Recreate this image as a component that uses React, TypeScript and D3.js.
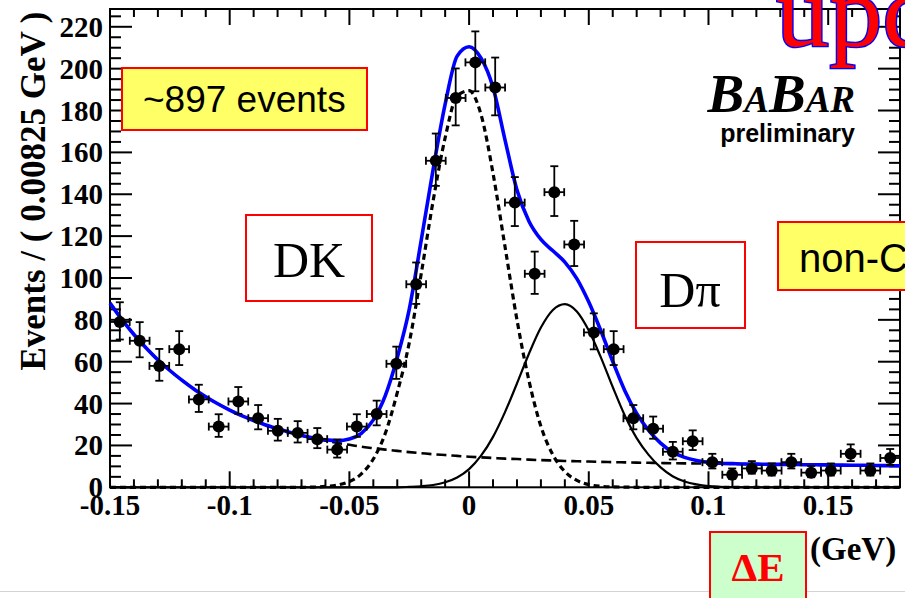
import React from 'react';
import * as d3 from 'd3';

// histogram: Delta E, bins of 0.00825 GeV
const binWidth = 0.00825;
const binCenters = [
  -0.1459, -0.1376, -0.1294, -0.1211, -0.1129, -0.1046, -0.0964, -0.0881, -0.0799, -0.0716,
  -0.0634, -0.0551, -0.0469, -0.0386, -0.0304, -0.0221, -0.0139, -0.0056, 0.0026, 0.0109,
  0.0191, 0.0274, 0.0356, 0.0439, 0.0521, 0.0604, 0.0686, 0.0769, 0.0851, 0.0934,
  0.1016, 0.1099, 0.1181, 0.1264, 0.1346, 0.1429, 0.1511, 0.1594, 0.1676, 0.1759,
];
const counts = [
  79, 70, 58, 66, 42, 29, 41, 33, 27, 26,
  23, 18, 29, 35, 59, 97, 156, 186, 203, 191,
  136, 102, 141, 116, 74, 66, 33, 28, 17, 22,
  12, 6, 9, 8, 12, 7, 8, 16, 8, 14,
];
const errLo = [
  8.4, 7.9, 7.1, 7.6, 6.0, 4.9, 5.9, 5.3, 4.7, 4.6,
  4.3, 3.8, 4.9, 5.4, 7.2, 9.4, 12.0, 13.1, 13.8, 13.3,
  11.2, 9.6, 11.4, 10.3, 8.1, 7.6, 5.3, 4.8, 3.7, 4.2,
  3.0, 2.0, 2.5, 2.4, 3.0, 2.2, 2.4, 3.5, 2.4, 3.3,
];
const errHi = [
  9.4, 8.9, 8.1, 8.6, 7.0, 5.9, 6.9, 6.3, 5.7, 5.6,
  5.3, 4.8, 5.9, 6.4, 8.2, 10.4, 13.0, 14.1, 14.8, 14.3,
  12.2, 10.6, 12.4, 11.3, 9.1, 8.6, 6.3, 5.8, 4.7, 5.2,
  4.0, 3.0, 3.5, 3.4, 4.0, 3.2, 3.4, 4.5, 3.4, 4.3,
];

// fit curves at 0.005 GeV steps
const curveX = [
  -0.15, -0.145, -0.14, -0.135, -0.13, -0.125, -0.12, -0.115, -0.11, -0.105,
  -0.1, -0.095, -0.09, -0.085, -0.08, -0.075, -0.07, -0.065, -0.06, -0.055,
  -0.05, -0.045, -0.04, -0.035, -0.03, -0.025, -0.02, -0.015, -0.01, -0.005,
  0, 0.005, 0.01, 0.015, 0.02, 0.025, 0.03, 0.035, 0.04, 0.045,
  0.05, 0.055, 0.06, 0.065, 0.07, 0.075, 0.08, 0.085, 0.09, 0.095,
  0.1, 0.105, 0.11, 0.115, 0.12, 0.125, 0.13, 0.135, 0.14, 0.145,
  0.15, 0.155, 0.16, 0.165, 0.17, 0.175, 0.18,
];
const totalFit = [
  88, 80.1, 73.0, 66.7, 60.9, 55.8, 51.2, 47.0, 43.3, 39.9,
  36.9, 34.2, 31.9, 29.8, 28.0, 26.3, 24.8, 23.6, 22.7, 22.3,
  23.1, 25.8, 32.2, 43.8, 62.0, 85, 118, 152, 183, 206,
  210.5, 205, 191, 166, 142, 127.1, 118.4, 113.0, 107.6, 99.7,
  88.5, 74.9, 60.1, 46.3, 35.3, 27.2, 21.1, 16.8, 14.3, 12.8,
  11.9, 11.5, 11.3, 11.1, 11.05, 11.0, 10.95, 10.9, 10.8, 10.75,
  10.7, 10.6, 10.55, 10.5, 10.4, 10.35, 10.3,
];
const bkgFit = [
  88, 80.1, 73.0, 66.7, 60.9, 55.8, 51.2, 47.0, 43.3, 39.9,
  36.9, 34.2, 31.9, 29.8, 28.0, 26.3, 24.8, 23.5, 22.3, 21.2,
  20.3, 19.4, 18.7, 18.0, 17.4, 16.8, 16.3, 15.8, 15.4, 15.0,
  14.6, 14.3, 14.0, 13.7, 13.5, 13.2, 13.0, 12.8, 12.6, 12.45,
  12.3, 12.15, 12.0, 11.9, 11.8, 11.7, 11.6, 11.5, 11.45, 11.4,
  11.3, 11.25, 11.2, 11.1, 11.05, 11.0, 10.95, 10.9, 10.8, 10.75,
  10.7, 10.6, 10.55, 10.5, 10.4, 10.35, 10.3,
];
const dkFit = [
  0, 0, 0, 0, 0, 0, 0, 0, 0, 0,
  0, 0, 0, 0, 0, 0, 0, 0.1, 0.4, 1.1,
  2.8, 6.4, 13.5, 25.8, 45.2, 69, 102, 137, 167, 187,
  189.5, 178, 150, 115, 80, 51, 29.1, 15.5, 7.5, 3.3,
  1.3, 0.5, 0.2, 0.1, 0, 0, 0, 0, 0, 0,
  0, 0, 0, 0, 0, 0, 0, 0, 0, 0,
  0, 0, 0, 0, 0, 0, 0,
];
const dpiFit = [
  0, 0, 0, 0, 0, 0, 0, 0, 0, 0,
  0, 0, 0, 0, 0, 0, 0, 0, 0, 0,
  0, 0, 0, 0, 0, 0.2, 0.5, 1.1, 2.4, 4.7,
  8.7, 15.1, 24.1, 35.9, 49.6, 63.8, 76.3, 84.7, 87.5, 84.0,
  74.9, 62.2, 47.9, 34.4, 23.5, 15.5, 9.5, 5.3, 2.8, 1.4,
  0.6, 0.25, 0.1, 0, 0, 0, 0, 0, 0, 0,
  0, 0, 0, 0, 0, 0, 0,
];

const xTickValues = [-0.15, -0.1, -0.05, 0, 0.05, 0.1, 0.15];
const xTickLabels = ['-0.15', '-0.1', '-0.05', '0', '0.05', '0.1', '0.15'];
const yTickValues = [0, 20, 40, 60, 80, 100, 120, 140, 160, 180, 200, 220];
const yTickLabels = ['0', '20', '40', '60', '80', '100', '120', '140', '160', '180', '200', '220'];

const serif = '"Liberation Serif", "Times New Roman", serif';
const sans = '"Liberation Sans", Arial, sans-serif';

export default function App() {
  const W = 905, H = 598;
  const left = 110, right = 900, top = 9, bottom = 487.3;

  const x = d3.scaleLinear().domain([-0.15, 0.18]).range([left, right]);
  const y = d3.scaleLinear().domain([0, 228.5]).range([bottom, top]);

  const xMinor = x.ticks(33);
  const yMinor = y.ticks(46);
  const isMajorX = (v: number) => Math.abs(v / 0.05 - Math.round(v / 0.05)) < 1e-6;
  const isMajorY = (v: number) => Math.abs(v % 20) < 1e-6;

  const mk = (vals: number[]) =>
    d3.line<number>()
      .x((_, i) => x(curveX[i]))
      .y(d => y(d))
      .curve(d3.curveMonotoneX)(vals) || '';

  const ticks: JSX.Element[] = [];
  xMinor.forEach((v, i) => {
    const len = isMajorX(v) ? 16 : 8;
    ticks.push(<line key={'xb' + i} x1={x(v)} x2={x(v)} y1={bottom} y2={bottom - len} />);
    ticks.push(<line key={'xt' + i} x1={x(v)} x2={x(v)} y1={top} y2={top + len} />);
  });
  yMinor.forEach((v, i) => {
    const len = isMajorY(v) ? 22 : 11;
    ticks.push(<line key={'yl' + i} x1={left} x2={left + len} y1={y(v)} y2={y(v)} />);
    ticks.push(<line key={'yr' + i} x1={right} x2={right - len} y1={y(v)} y2={y(v)} />);
  });

  const cap = 4;

  return (
    <svg width={W} height={H} style={{ position: 'absolute', left: 0, top: 0, background: '#fff' }}>
      <rect x={0} y={0} width={W} height={H} fill="#fff" />
      <line x1={0} x2={W} y1={591.5} y2={591.5} stroke="#d4d4d4" strokeWidth={1.2} />

      {/* frame + ticks */}
      <g stroke="#000" strokeWidth={2}>{ticks}</g>
      <rect x={left} y={top} width={right - left} height={bottom - top} fill="none" stroke="#000" strokeWidth={2} />

      {/* tick labels */}
      <g fontFamily={serif} fontWeight="bold" fontSize={29} fill="#000">
        {xTickValues.map((v, i) => (
          <text key={'xl' + i} x={x(v)} y={515} textAnchor="middle">{xTickLabels[i]}</text>
        ))}
        {yTickValues.map((v, i) => (
          <text key={'yl' + i} x={103} y={y(v) + 10} textAnchor="end">{yTickLabels[i]}</text>
        ))}
      </g>
      <text transform="translate(45,191) rotate(-90)" textAnchor="middle" fontFamily={serif}
        fontWeight="bold" fontSize={35}>Events / ( 0.00825 GeV )</text>

      {/* fit components */}
      <path d={mk(bkgFit)} fill="none" stroke="#000" strokeWidth={2.6} strokeDasharray="10 5" />
      <path d={mk(dpiFit)} fill="none" stroke="#000" strokeWidth={2.2} />
      <path d={mk(dkFit)} fill="none" stroke="#000" strokeWidth={3.2} strokeDasharray="6 4" />
      <path d={mk(totalFit)} fill="none" stroke="#0000ff" strokeWidth={3.6} />

      {/* data points */}
      <g stroke="#000" strokeWidth={1.8}>
        {binCenters.map((c, i) => {
          const cx = x(c), cy = y(counts[i]);
          const x0 = x(c - binWidth / 2), x1 = x(c + binWidth / 2);
          const yLo = y(counts[i] - errLo[i]), yHi = y(counts[i] + errHi[i]);
          return (
            <g key={'p' + i}>
              <line x1={cx} x2={cx} y1={yLo} y2={yHi} />
              <line x1={cx - cap} x2={cx + cap} y1={yLo} y2={yLo} />
              <line x1={cx - cap} x2={cx + cap} y1={yHi} y2={yHi} />
              <line x1={x0} x2={x1} y1={cy} y2={cy} />
              <line x1={x0} x2={x0} y1={cy - cap} y2={cy + cap} />
              <line x1={x1} x2={x1} y1={cy - cap} y2={cy + cap} />
              <circle cx={cx} cy={cy} r={6} fill="#000" stroke="none" />
            </g>
          );
        })}
      </g>

      {/* annotations */}
      <rect x={122} y={68} width={245} height={62} fill="#ffff66" stroke="#ff0000" strokeWidth={2} />
      <text x={143} y={112} fontFamily={sans} fontSize={37}>~897 events</text>

      <rect x={246} y={215} width={126} height={86} fill="#fff" stroke="#ff0000" strokeWidth={2} />
      <text x={309} y={277} textAnchor="middle" fontFamily={serif} fontSize={50}>DK</text>

      <rect x={636} y={242} width={109} height={86} fill="#fff" stroke="#ff0000" strokeWidth={2} />
      <text x={690} y={307} textAnchor="middle" fontFamily={serif} fontSize={50}>Dπ</text>

      <rect x={778} y={222} width={140} height={68} fill="#ffff66" stroke="#ff0000" strokeWidth={2} />
      <text x={799} y={272} fontFamily={sans} fontSize={40}>non-C</text>

      <text x={855} y={112} textAnchor="end" fontFamily={serif} fontWeight="bold" fontStyle="italic">
        <tspan fontSize={55}>B</tspan><tspan fontSize={37}>A</tspan>
        <tspan fontSize={55}>B</tspan><tspan fontSize={37}>AR</tspan>
      </text>
      <text x={855} y={142} textAnchor="end" fontFamily={sans} fontWeight="bold" fontSize={25}>preliminary</text>

      <rect x={710} y={532} width={96} height={80} fill="#ccffcc" stroke="#ff0000" strokeWidth={2} />
      <text x={758} y={581} textAnchor="middle" fontFamily={serif} fontWeight="bold" fontSize={41} fill="#ff0000">ΔE</text>
      <text x={810} y={560} fontFamily={serif} fontWeight="bold" fontSize={33}>(GeV)</text>

      <text transform="translate(776,46) scale(0.95,0.9)" fontFamily={serif} fontSize={112} fill="#ff0000"
        stroke="#0000ff" strokeWidth={3} paintOrder="stroke">upd</text>
    </svg>
  );
}
